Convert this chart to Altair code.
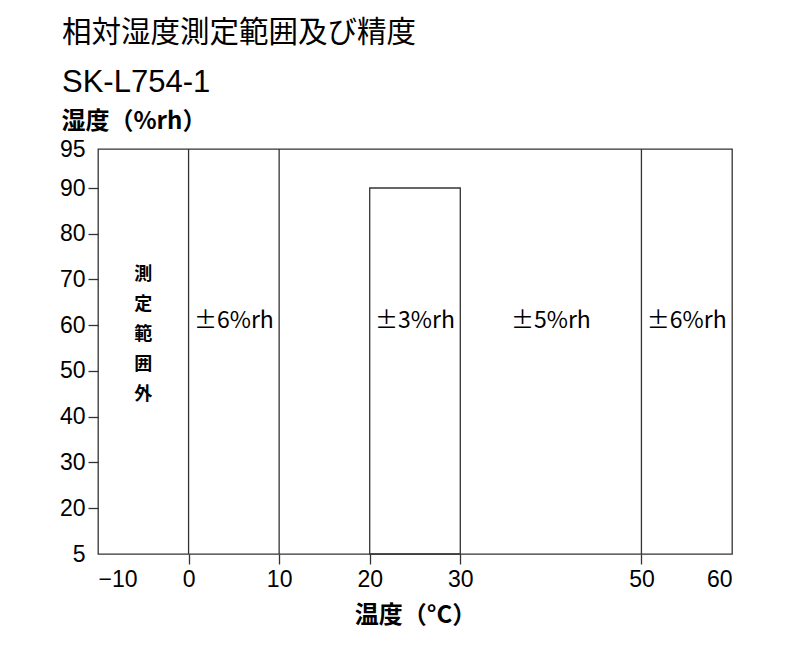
import altair as alt
import pandas as pd

# ---- data ----
x_ticks = [-10, 0, 10, 20, 30, 50, 60]
y_ticks = [5, 20, 30, 40, 50, 60, 70, 80, 90, 95]
boundary_x = [0, 10, 50]
box_x1 = [20]
box_x2 = [30]
box_y1 = [5]
box_y2 = [90]
acc_x = [5, 25, 40, 55]
acc_y = [61, 61, 61, 61]
acc_text = ["±6%rh", "±3%rh", "±5%rh", "±6%rh"]
out_x = [-5]
out_y = [71]
out_text = ["測定範囲外"]

LINE = "#333333"
JP = "Noto Sans CJK JP"
NUM = "Liberation Sans"

xscale = alt.Scale(domain=[-10, 60], nice=False, zero=False)
# the reference axis is drawn piecewise: 5..20 and 90..95 are compressed
yscale = alt.Scale(domain=[5, 20, 90, 95], range=[405, 359, 39, 0], nice=False, zero=False)

xaxis = alt.Axis(
    values=x_ticks, grid=False, domain=False, tickSize=10, tickColor=LINE, tickWidth=1.3,
    tickOpacity={"condition": {"test": "datum.value == -10 || datum.value == 60", "value": 0}, "value": 1},
    labelFont=NUM, labelFontSize=23, labelColor="black", labelPadding=4,
    title="温度（°C）", titleFont=JP, titleFontSize=24, titleFontWeight="bold",
    titleColor="black", titlePadding=12,
)
yaxis = alt.Axis(
    values=y_ticks, grid=False, domain=False, tickSize=10, tickColor=LINE, tickWidth=1.3,
    tickOpacity={"condition": {"test": "datum.value == 5 || datum.value == 95", "value": 0}, "value": 1},
    labelFont=NUM, labelFontSize=23, labelColor="black", labelPadding=3,
    title="湿度（%rh）", titleFont=JP, titleFontSize=24, titleFontWeight="bold",
    titleColor="black", titleAngle=0, titleAlign="left", titleBaseline="middle",
    titleX=-37, titleY=-28,
)

base_df = pd.DataFrame({"x": x_ticks[:1], "y": y_ticks[:1]})
axes_layer = alt.Chart(base_df).mark_point(opacity=0).encode(
    x=alt.X("x:Q", scale=xscale, axis=xaxis),
    y=alt.Y("y:Q", scale=yscale, axis=yaxis),
)

rules = alt.Chart(pd.DataFrame({"x": boundary_x})).mark_rule(
    color=LINE, strokeWidth=1.3
).encode(x=alt.X("x:Q", scale=xscale))

box = alt.Chart(pd.DataFrame({"x1": box_x1, "x2": box_x2, "y1": box_y1, "y2": box_y2})).mark_rect(
    fillOpacity=0, stroke=LINE, strokeWidth=1.3
).encode(
    x=alt.X("x1:Q", scale=xscale), x2="x2:Q",
    y=alt.Y("y1:Q", scale=yscale), y2="y2:Q",
)

acc = alt.Chart(pd.DataFrame({"x": acc_x, "y": acc_y, "t": acc_text})).mark_text(
    font=JP, fontSize=23, color="black", align="center", baseline="middle"
).encode(
    x=alt.X("x:Q", scale=xscale), y=alt.Y("y:Q", scale=yscale), text="t:N"
)

out_df = pd.DataFrame({"x": out_x, "y": out_y, "t": ["\n".join(s) for s in out_text]})
outside = alt.Chart(out_df).mark_text(
    font=JP, fontSize=18, fontWeight="bold", color="black", align="center",
    baseline="middle", lineBreak="\n", lineHeight=30
).encode(
    x=alt.X("x:Q", scale=xscale), y=alt.Y("y:Q", scale=yscale), text="t:N"
)

chart = alt.layer(axes_layer, rules, box, acc, outside).properties(
    width=634,
    height=405,
    background="white",
    padding={"left": 90, "top": 141, "right": 40, "bottom": 90},
    autosize=alt.AutoSizeParams(type="none"),
    title=alt.TitleParams(
        text="相対湿度測定範囲及び精度", subtitle="SK-L754-1",
        anchor="start", frame="group", dx=-36, offset=10,
        font=JP, fontSize=29.5, fontWeight="normal", color="black",
        subtitleFont=NUM, subtitleFontSize=31, subtitleColor="black", subtitlePadding=20,
    ),
).configure_view(stroke=LINE, strokeWidth=1.3)

chart.save("out.html", embed_options={"renderer": "svg", "actions": False})
